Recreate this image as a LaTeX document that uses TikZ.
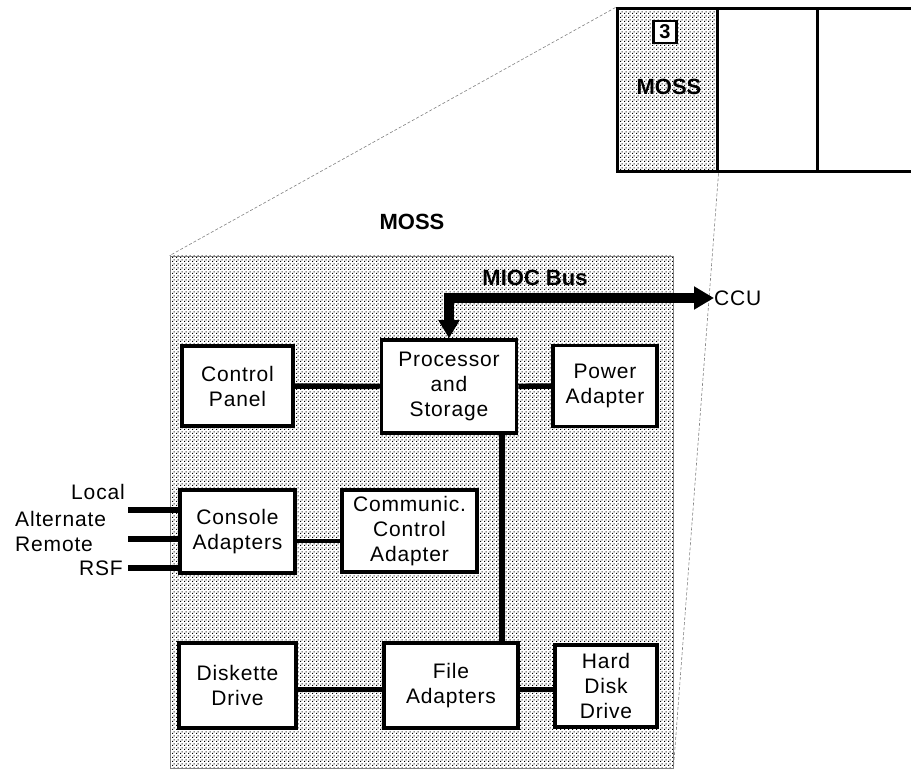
\documentclass[tikz,border=0pt]{standalone}
\usepackage{fontspec}
\setmainfont{Liberation Sans}
\newfontfamily\wideface[LetterSpace=4]{Liberation Sans}
\usetikzlibrary{arrows.meta,patterns.meta}

\tikzdeclarepattern{
  name=mossdots,
  type=uncolored,
  bounding box={(0pt,0pt) and (4pt,4pt)},
  tile size={(4pt,4pt)},
  code={
    \fill (0pt,0pt) rectangle (1.4pt,1.4pt);
    \fill (2pt,2pt) rectangle (3.4pt,3.4pt);
  }
}

\begin{document}
\begin{tikzpicture}[
    x=1pt, y=-1pt,
    unit/.style={rectangle, draw, line width=3.5pt, fill=white, align=center, inner sep=0pt, font=\wideface\fontsize{21}{25}\selectfont},
    cell/.style={rectangle, draw, line width=3pt, inner sep=0pt, minimum width=100pt, minimum height=163pt},
    shaded/.style={pattern=mossdots, pattern color=black},
    link/.style={line width=5.5pt},
    bus/.style={line width=10pt, {Triangle[length=18pt,width=20pt]}-{Triangle[length=20pt,width=22pt]}},
    title/.style={font=\fontsize{22}{24}\selectfont\bfseries, inner sep=0pt},
    proj/.style={gray, line width=0.6pt, densely dashed},
    lbl/.style={font=\wideface\fontsize{21}{24}\selectfont, inner sep=0pt}
]
\useasboundingbox (0,0) rectangle (911,770);

% Unit row at the top
\node[cell, shaded] (cellA) at (667,90.5) {};
\node[cell] (cellB) at (767,90.5) {};
\node[cell] (cellC) at (867,90.5) {};
\node[draw, line width=2.5pt, fill=white, minimum width=23pt, minimum height=22pt, inner sep=0pt, font=\fontsize{20}{20}\selectfont\bfseries] (num) at (665,32) {3};
\node[title] (cellname) at (669,87) {MOSS};

% MOSS enlarged
\node[title] (mosstitle) at (412,222) {MOSS};
\node[rectangle, draw=gray, line width=0.8pt, shaded, minimum width=503pt, minimum height=512pt, inner sep=0pt] (moss) at (421.5,512) {};
\draw[proj] (cellA.north west) -- (moss.north west);
\draw[proj] (cellA.south east) -- (moss.south east);

% Units inside
\node[unit, minimum width=111pt, minimum height=80pt] (panel) at (237.5,386) {Control\\Panel};
\node[unit, minimum width=135pt, minimum height=93pt] (proc) at (449,386.5) {Processor\\and\\Storage};
\node[unit, minimum width=104pt, minimum height=81pt] (power) at (605,386) {Power\\Adapter};
\node[unit, minimum width=115pt, minimum height=83pt] (console) at (237.5,531.5) {Console\\Adapters};
\node[unit, minimum width=135pt, minimum height=82pt] (comm) at (409.5,531) {Communic.\\Control\\Adapter};
\node[unit, minimum width=117pt, minimum height=85pt] (disk) at (237.5,685.5) {Diskette\\Drive};
\node[unit, minimum width=134pt, minimum height=85pt] (file) at (451,685.5) {File\\Adapters};
\node[unit, minimum width=102pt, minimum height=82pt] (hard) at (606,686) {Hard\\Disk\\Drive};

% MIOC bus
\node[title] (bustitle) at (535,278) {MIOC Bus};
\node[lbl, anchor=west] (ccu) at (714,298) {CCU};
\draw[bus] (proc.north) |- (ccu.west);

% Links
\draw[link] (panel) -- (proc);
\draw[link] (proc) -- (power);
\draw[link] ([xshift=53pt]proc.south) -- ([xshift=53pt]proc.south |- file.north);
\draw[line width=4pt] ([yshift=-9pt]console.east) -- ([yshift=-9pt]console.east -| comm.west);
\draw[link] ([yshift=-4pt]disk.east) -- ([yshift=-4pt]disk.east -| file.west);
\draw[link] ([yshift=-4pt]file.east) -- ([yshift=-4pt]file.east -| hard.west);

% Console lines
\coordinate (inA) at (128,510);
\coordinate (inB) at (128,539);
\coordinate (inC) at (128,568);
\draw[link] (inA) -- (inA -| console.west);
\draw[link] (inB) -- (inB -| console.west);
\draw[link] (inC) -- (inC -| console.west);
\node[lbl, anchor=east] (local) at (125,492) {Local};
\node[lbl, anchor=west] (alternate) at (15,519) {Alternate};
\node[lbl, anchor=west] (remote) at (15,544) {Remote};
\node[lbl, anchor=east] (rsf) at (123,568) {RSF};

\end{tikzpicture}
\end{document}
